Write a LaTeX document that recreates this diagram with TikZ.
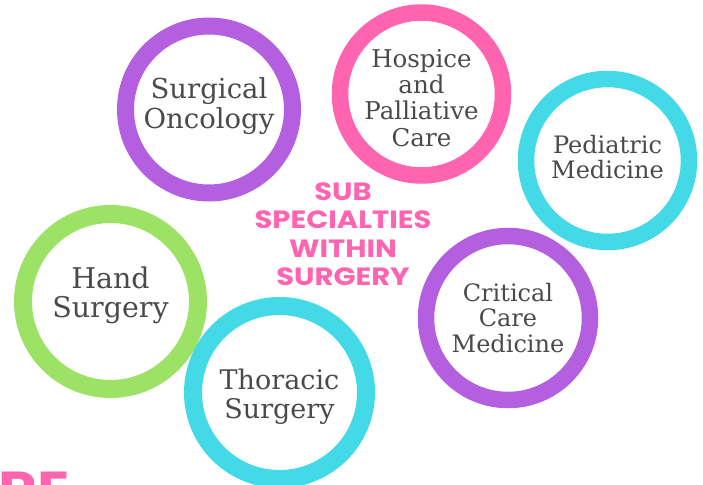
\documentclass[tikz,border=0pt]{standalone}
\usepackage{fontspec}
\setmainfont{DejaVu Serif}
\newfontfamily\titlefont{Poppins}
\definecolor{rpurple}{HTML}{B45EE0}
\definecolor{rpink}{HTML}{FF64B0}
\definecolor{rcyan}{HTML}{44D9E6}
\definecolor{rgreen}{HTML}{9CE265}
\definecolor{rtext}{HTML}{4A4A48}
\tikzset{
  ring/.style={circle, inner sep=0pt, align=center},
  ringtext/.style={text=rtext, align=center, inner sep=0pt},
  title/.style={text=rpink, align=center, xscale=1.16, transform shape, font=\titlefont\bfseries\fontsize{25}{28.5}\selectfont}
}
\begin{document}
\begin{tikzpicture}[x=1pt,y=-1pt]
\useasboundingbox (0,0) rectangle (703,484);
\clip (0,0) rectangle (703,484);
\node[ring, draw=rpurple, line width=17pt, minimum size=167pt] (onc) at (209,109.5) {};
\node[ring, draw=rpink, line width=16.5pt, minimum size=163pt] (hos) at (421.5,94) {};
\node[ring, draw=rcyan, line width=16.5pt, minimum size=163pt] (ped) at (607.5,160.5) {};
\node[ring, draw=rgreen, line width=18pt, minimum size=175pt] (hand) at (110.5,301.5) {};
\node[ring, draw=rcyan, line width=18pt, minimum size=173pt] (tho) at (279.5,392.5) {};
\node[ring, draw=rpurple, line width=16.5pt, minimum size=164pt] (crit) at (508,318) {};
\node[ringtext, font=\fontsize{27.5}{30}\selectfont] (tonc) at ([yshift=3pt]onc.center) {Surgical\\Oncology};
\node[ringtext, font=\fontsize{24.5}{26.3}\selectfont] (thos) at ([yshift=-4pt]hos.center) {Hospice\\and\\Palliative\\Care};
\node[ringtext, font=\fontsize{24}{25}\selectfont] (tped) at ([yshift=3pt]ped.center) {Pediatric\\Medicine};
\node[ringtext, font=\fontsize{28.5}{29.5}\selectfont] (thand) at ([yshift=6pt]hand.center) {Hand\\Surgery};
\node[ringtext, font=\fontsize{27}{28.5}\selectfont] (ttho) at ([yshift=-4pt]tho.center) {Thoracic\\Surgery};
\node[ringtext, font=\fontsize{24}{25.5}\selectfont] (tcrit) at (crit.center) {Critical\\Care\\Medicine};
\node[title] (ttl) at (343,234) {SUB\\SPECIALTIES\\WITHIN\\SURGERY};
\node[text=rpink, font=\titlefont\bfseries\fontsize{52}{52}\selectfont, anchor=base west, inner sep=0pt, xscale=1.15, transform shape] (re) at (-2,508) {RE};
\end{tikzpicture}
\end{document}
